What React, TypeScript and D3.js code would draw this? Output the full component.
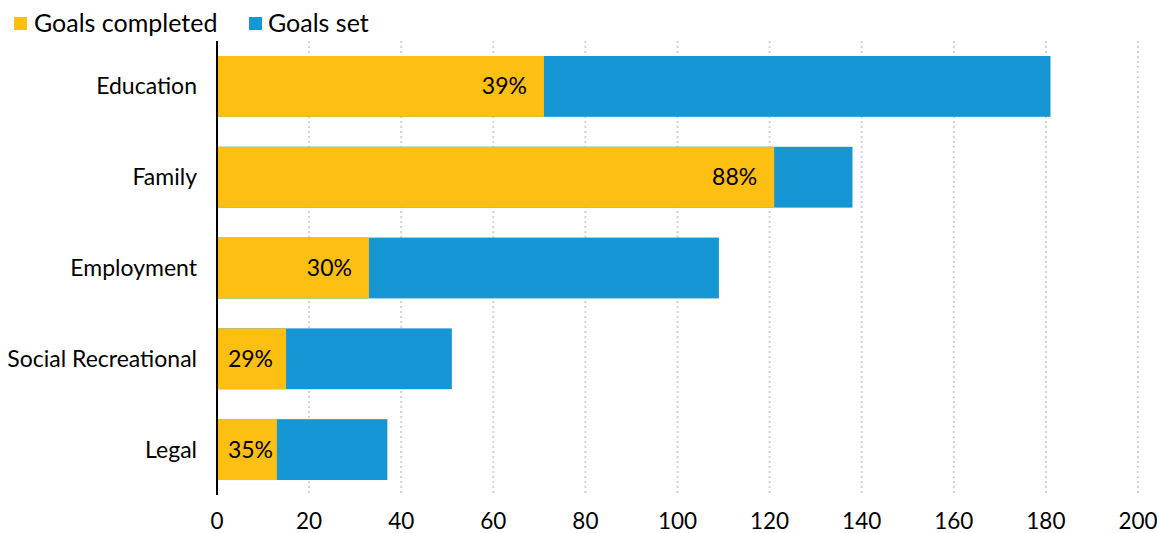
import React from "react";
import * as d3 from "d3";

const categories = ["Education", "Family", "Employment", "Social Recreational", "Legal"];
const goalsCompleted = [71, 121, 33, 15, 13];
const goalsSet = [181, 138, 109, 51, 37];
const percentLabels = ["39%", "88%", "30%", "29%", "35%"];
const xTicks = [0, 20, 40, 60, 80, 100, 120, 140, 160, 180, 200];

const W = 1157;
const H = 533;
const YELLOW = "#fdbf11";
const BLUE = "#1696d2";
const FONT = "Lato, 'Noto Sans', sans-serif";

export default function App() {
  const x = d3.scaleLinear().domain([0, 200]).range([217, 1138]);
  const y = d3
    .scaleBand<string>()
    .domain(categories)
    .range([41, 495])
    .paddingInner(0.33)
    .paddingOuter(0.165);
  const bw = y.bandwidth();

  return (
    <svg width={W} height={H} style={{ position: "absolute", left: 0, top: 0, fontFamily: FONT }}>
      <rect width={W} height={H} fill="#fff" />
      {/* grid */}
      {xTicks.slice(1).map((t) => (
        <line
          key={t}
          x1={x(t)}
          x2={x(t)}
          y1={41}
          y2={493}
          stroke="#d2d2d2"
          strokeWidth={2}
          strokeDasharray="2,3"
        />
      ))}
      {/* bars */}
      {categories.map((c, i) => {
        const y0 = y(c)!;
        const xs = x(goalsSet[i]);
        const xc = x(goalsCompleted[i]);
        const labelX = Math.max(xc - 17, x(0) + 56);
        return (
          <g key={c}>
            <rect x={x(0)} y={y0} width={xs - x(0)} height={bw} fill={BLUE} />
            <rect x={x(0)} y={y0} width={xc - x(0)} height={bw} fill={YELLOW} />
            <text
              x={labelX}
              y={y0 + bw / 2}
              dy="0.35em"
              textAnchor="end"
              fontSize={23}
              fill="#000"
            >
              {percentLabels[i]}
            </text>
            <text
              x={197}
              y={y0 + bw / 2}
              dy="0.35em"
              textAnchor="end"
              fontSize={23}
              fill="#000"
            >
              {c}
            </text>
          </g>
        );
      })}
      {/* axis line */}
      <line x1={217} x2={217} y1={41} y2={495} stroke="#000" strokeWidth={2} />
      {/* x tick labels */}
      {xTicks.map((t) => (
        <text key={t} x={x(t)} y={529} textAnchor="middle" fontSize={22.5} fill="#000">
          {t}
        </text>
      ))}
      {/* legend */}
      <rect x={14} y={17} width={13} height={13} fill={YELLOW} />
      <text x={34} y={32} fontSize={25} fill="#000">
        Goals completed
      </text>
      <rect x={249} y={17} width={13} height={13} fill={BLUE} />
      <text x={268} y={32} fontSize={25} fill="#000">
        Goals set
      </text>
    </svg>
  );
}
